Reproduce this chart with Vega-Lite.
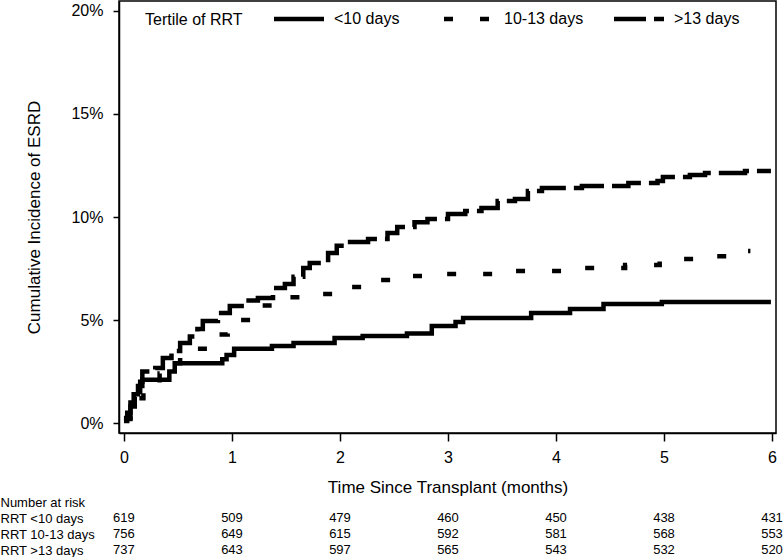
{
  "$schema": "https://vega.github.io/schema/vega-lite/v6.json",
  "padding": 0,
  "background": "white",
  "bounds": "flush",
  "spacing": 65,
  "config": {"font": "Liberation Sans", "view": {"stroke": "black", "strokeWidth": 1.5}},
  "datasets": {
    "curves": [
      {"group": "<10 days", "t": 0, "v": 0.1}, {"group": "<10 days", "t": 0.03, "v": 0.5}, {"group": "<10 days", "t": 0.06, "v": 1.0}, {"group": "<10 days", "t": 0.09, "v": 1.4}, {"group": "<10 days", "t": 0.13, "v": 1.8}, {"group": "<10 days", "t": 0.17, "v": 2.1}, {"group": "<10 days", "t": 0.42, "v": 2.5}, {"group": "<10 days", "t": 0.47, "v": 2.9}, {"group": "<10 days", "t": 0.91, "v": 3.1}, {"group": "<10 days", "t": 0.95, "v": 3.3}, {"group": "<10 days", "t": 1.02, "v": 3.6}, {"group": "<10 days", "t": 1.37, "v": 3.74}, {"group": "<10 days", "t": 1.57, "v": 3.88}, {"group": "<10 days", "t": 1.95, "v": 4.13}, {"group": "<10 days", "t": 2.21, "v": 4.22}, {"group": "<10 days", "t": 2.62, "v": 4.35}, {"group": "<10 days", "t": 2.85, "v": 4.71}, {"group": "<10 days", "t": 3.07, "v": 4.9}, {"group": "<10 days", "t": 3.14, "v": 5.1}, {"group": "<10 days", "t": 3.77, "v": 5.34}, {"group": "<10 days", "t": 4.13, "v": 5.53}, {"group": "<10 days", "t": 4.44, "v": 5.78}, {"group": "<10 days", "t": 4.98, "v": 5.87}, {"group": "<10 days", "t": 5.99, "v": 5.87},
      {"group": "10-13 days", "t": 0, "v": 0.2}, {"group": "10-13 days", "t": 0.06, "v": 0.9}, {"group": "10-13 days", "t": 0.1, "v": 1.2}, {"group": "10-13 days", "t": 0.18, "v": 1.5}, {"group": "10-13 days", "t": 0.24, "v": 1.9}, {"group": "10-13 days", "t": 0.33, "v": 2.4}, {"group": "10-13 days", "t": 0.43, "v": 2.9}, {"group": "10-13 days", "t": 0.52, "v": 3.3}, {"group": "10-13 days", "t": 0.66, "v": 3.6}, {"group": "10-13 days", "t": 0.77, "v": 3.9}, {"group": "10-13 days", "t": 0.87, "v": 4.3}, {"group": "10-13 days", "t": 0.96, "v": 4.8}, {"group": "10-13 days", "t": 1.07, "v": 5.0}, {"group": "10-13 days", "t": 1.18, "v": 5.53}, {"group": "10-13 days", "t": 1.28, "v": 5.7}, {"group": "10-13 days", "t": 1.39, "v": 6.1}, {"group": "10-13 days", "t": 1.63, "v": 6.26}, {"group": "10-13 days", "t": 2.03, "v": 6.6}, {"group": "10-13 days", "t": 2.28, "v": 6.94}, {"group": "10-13 days", "t": 2.56, "v": 7.14}, {"group": "10-13 days", "t": 2.93, "v": 7.23}, {"group": "10-13 days", "t": 3.57, "v": 7.38}, {"group": "10-13 days", "t": 4.15, "v": 7.52}, {"group": "10-13 days", "t": 4.64, "v": 7.67}, {"group": "10-13 days", "t": 4.96, "v": 7.96}, {"group": "10-13 days", "t": 5.33, "v": 8.1}, {"group": "10-13 days", "t": 5.66, "v": 8.35}, {"group": "10-13 days", "t": 5.8, "v": 8.35},
      {"group": ">13 days", "t": 0, "v": 0.24}, {"group": ">13 days", "t": 0.06, "v": 0.8}, {"group": ">13 days", "t": 0.1, "v": 1.5}, {"group": ">13 days", "t": 0.15, "v": 2.0}, {"group": ">13 days", "t": 0.17, "v": 2.5}, {"group": ">13 days", "t": 0.29, "v": 2.67}, {"group": ">13 days", "t": 0.36, "v": 3.16}, {"group": ">13 days", "t": 0.44, "v": 3.5}, {"group": ">13 days", "t": 0.52, "v": 3.88}, {"group": ">13 days", "t": 0.61, "v": 4.2}, {"group": ">13 days", "t": 0.68, "v": 4.56}, {"group": ">13 days", "t": 0.73, "v": 4.95}, {"group": ">13 days", "t": 0.87, "v": 5.34}, {"group": ">13 days", "t": 0.98, "v": 5.68}, {"group": ">13 days", "t": 1.12, "v": 5.95}, {"group": ">13 days", "t": 1.24, "v": 6.07}, {"group": ">13 days", "t": 1.38, "v": 6.55}, {"group": ">13 days", "t": 1.49, "v": 6.75}, {"group": ">13 days", "t": 1.57, "v": 7.1}, {"group": ">13 days", "t": 1.66, "v": 7.52}, {"group": ">13 days", "t": 1.72, "v": 7.77}, {"group": ">13 days", "t": 1.89, "v": 8.25}, {"group": ">13 days", "t": 1.97, "v": 8.6}, {"group": ">13 days", "t": 2.07, "v": 8.79}, {"group": ">13 days", "t": 2.26, "v": 8.93}, {"group": ">13 days", "t": 2.44, "v": 9.22}, {"group": ">13 days", "t": 2.53, "v": 9.51}, {"group": ">13 days", "t": 2.69, "v": 9.75}, {"group": ">13 days", "t": 2.81, "v": 9.9}, {"group": ">13 days", "t": 3.0, "v": 10.15}, {"group": ">13 days", "t": 3.16, "v": 10.29}, {"group": ">13 days", "t": 3.31, "v": 10.44}, {"group": ">13 days", "t": 3.46, "v": 10.78}, {"group": ">13 days", "t": 3.62, "v": 10.87}, {"group": ">13 days", "t": 3.74, "v": 11.26}, {"group": ">13 days", "t": 3.87, "v": 11.41}, {"group": ">13 days", "t": 4.24, "v": 11.5}, {"group": ">13 days", "t": 4.67, "v": 11.65}, {"group": ">13 days", "t": 4.94, "v": 11.75}, {"group": ">13 days", "t": 4.99, "v": 11.94}, {"group": ">13 days", "t": 5.24, "v": 12.04}, {"group": ">13 days", "t": 5.38, "v": 12.14}, {"group": ">13 days", "t": 5.75, "v": 12.23}, {"group": ">13 days", "t": 5.99, "v": 12.23}
    ],
    "risk": [
      {"row": "RRT <10 days", "t": 0, "n": 619}, {"row": "RRT <10 days", "t": 1, "n": 509}, {"row": "RRT <10 days", "t": 2, "n": 479}, {"row": "RRT <10 days", "t": 3, "n": 460}, {"row": "RRT <10 days", "t": 4, "n": 450}, {"row": "RRT <10 days", "t": 5, "n": 438}, {"row": "RRT <10 days", "t": 6, "n": 431},
      {"row": "RRT 10-13 days", "t": 0, "n": 756}, {"row": "RRT 10-13 days", "t": 1, "n": 649}, {"row": "RRT 10-13 days", "t": 2, "n": 615}, {"row": "RRT 10-13 days", "t": 3, "n": 592}, {"row": "RRT 10-13 days", "t": 4, "n": 581}, {"row": "RRT 10-13 days", "t": 5, "n": 568}, {"row": "RRT 10-13 days", "t": 6, "n": 553},
      {"row": "RRT >13 days", "t": 0, "n": 737}, {"row": "RRT >13 days", "t": 1, "n": 643}, {"row": "RRT >13 days", "t": 2, "n": 597}, {"row": "RRT >13 days", "t": 3, "n": 565}, {"row": "RRT >13 days", "t": 4, "n": 543}, {"row": "RRT >13 days", "t": 5, "n": 532}, {"row": "RRT >13 days", "t": 6, "n": 520}
    ]
  },
  "vconcat": [
    {
      "width": 657,
      "height": 432,
      "data": {"name": "curves"},
      "mark": {"type": "line", "interpolate": "step-after", "strokeWidth": 4.5, "color": "black", "clip": true},
      "encoding": {
        "x": {
          "field": "t", "type": "quantitative",
          "scale": {"domain": [-0.046, 6.037], "nice": false, "zero": false},
          "axis": {"values": [0, 1, 2, 3, 4, 5, 6], "format": "d", "title": "Time Since Transplant (months)", "grid": false, "domain": true, "domainColor": "black", "domainWidth": 1.5, "tickColor": "black", "tickSize": 8, "tickWidth": 1.5, "labelFontSize": 16, "labelColor": "black", "labelPadding": 8, "titleFontSize": 17, "titleFontWeight": "normal", "titleColor": "black", "titlePadding": 14}
        },
        "y": {
          "field": "v", "type": "quantitative",
          "scale": {"domain": [-0.485, 20.485], "nice": false, "zero": false},
          "axis": {"values": [0, 5, 10, 15, 20], "labelExpr": "datum.value + '%'", "title": "Cumulative Incidence of ESRD", "grid": false, "domain": true, "domainColor": "black", "domainWidth": 1.5, "tickColor": "black", "tickSize": 6, "tickWidth": 1.5, "labelFontSize": 16, "labelColor": "black", "labelPadding": 10, "titleFontSize": 17, "titleFontWeight": "normal", "titleColor": "black", "titlePadding": 27}
        },
        "strokeDash": {
          "field": "group", "type": "nominal",
          "scale": {"domain": ["<10 days", "10-13 days", ">13 days"], "range": [[1, 0], [9, 27], [32, 8]]},
          "legend": {"orient": "none", "legendX": 26, "legendY": 10, "direction": "horizontal", "gridAlign": "all", "title": "Tertile of RRT", "titleOrient": "left", "titleFontSize": 16, "titleFontWeight": "normal", "titleColor": "black", "titlePadding": 48, "labelFontSize": 16, "labelColor": "black", "labelOffset": 27, "columnPadding": 21, "symbolType": "M-5,0H5", "symbolSize": 100, "symbolStrokeWidth": 4.5, "symbolStrokeColor": "black", "symbolFillColor": "transparent"}
        }
      }
    },
    {
      "width": 657,
      "height": 56,
      "view": {"stroke": null},
      "data": {"name": "risk"},
      "mark": {"type": "text", "fontSize": 13, "color": "black"},
      "encoding": {
        "x": {"field": "t", "type": "quantitative", "scale": {"domain": [-0.046, 6.037], "nice": false, "zero": false}, "axis": null},
        "y": {
          "field": "row", "type": "ordinal",
          "scale": {"type": "point", "domain": ["Number at risk", "RRT <10 days", "RRT 10-13 days", "RRT >13 days"], "padding": 0.25},
          "axis": {"title": null, "domain": false, "ticks": false, "tickSize": 0, "labelAlign": "left", "labelPadding": 119, "labelFontSize": 13, "labelColor": "black"}
        },
        "text": {"field": "n", "type": "quantitative"}
      }
    }
  ]
}
